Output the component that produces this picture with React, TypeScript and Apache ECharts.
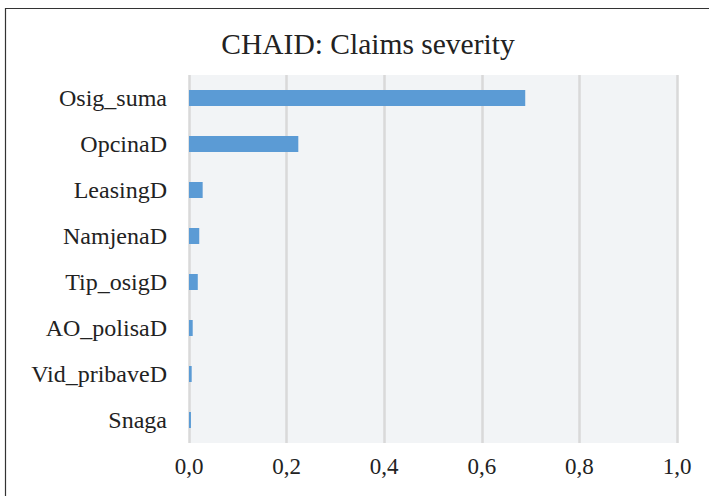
import React, { useEffect, useRef } from "react";
import * as echarts from "echarts";

const categories = ["Osig_suma", "OpcinaD", "LeasingD", "NamjenaD", "Tip_osigD", "AO_polisaD", "Vid_pribaveD", "Snaga"];
const importance = [0.689, 0.224, 0.028, 0.021, 0.018, 0.0076, 0.0055, 0.004];
const titleText = "CHAID: Claims severity";

export default function App() {
  const ref = useRef<HTMLDivElement>(null);
  useEffect(() => {
    const chart = echarts.init(ref.current!, null, { renderer: "svg" });
    const font = "'Liberation Serif', 'Times New Roman', serif";
    chart.setOption({
      animation: false,
      backgroundColor: "#ffffff",
      title: {
        text: titleText,
        left: 363,
        textAlign: "center",
        top: 24,
        textStyle: { fontFamily: font, fontSize: 29.5, fontWeight: "normal", color: "#222" },
      },
      graphic: [
        {
          type: "rect",
          shape: { x: 5.5, y: 8.5, width: 800, height: 600 },
          style: { fill: "none", stroke: "#333", lineWidth: 1.2 },
          silent: true,
        },
      ],
      grid: {
        left: 189,
        right: 32,
        top: 75,
        bottom: 53,
        show: true,
        backgroundColor: "#f2f4f6",
        borderWidth: 0,
      },
      xAxis: {
        type: "value",
        min: 0,
        max: 1,
        interval: 0.2,
        axisLine: { show: false },
        axisTick: { show: false },
        splitLine: { show: true, lineStyle: { color: "#d9d9d9", width: 2.5 } },
        axisLabel: {
          fontFamily: font,
          fontSize: 23,
          color: "#222",
          margin: 12,
          formatter: (v: number) => v.toFixed(1).replace(".", ","),
        },
      },
      yAxis: {
        type: "category",
        data: categories,
        inverse: true,
        axisLine: { show: false },
        axisTick: { show: false },
        axisLabel: { fontFamily: font, fontSize: 24, color: "#222", margin: 22 },
      },
      series: [
        {
          type: "bar",
          data: importance,
          barWidth: 16,
          itemStyle: { color: "#5b9bd5" },
        },
      ],
    });
    return () => chart.dispose();
  }, []);
  return <div ref={ref} style={{ position: "fixed", left: 0, top: 0, width: 709, height: 496 }} />;
}
